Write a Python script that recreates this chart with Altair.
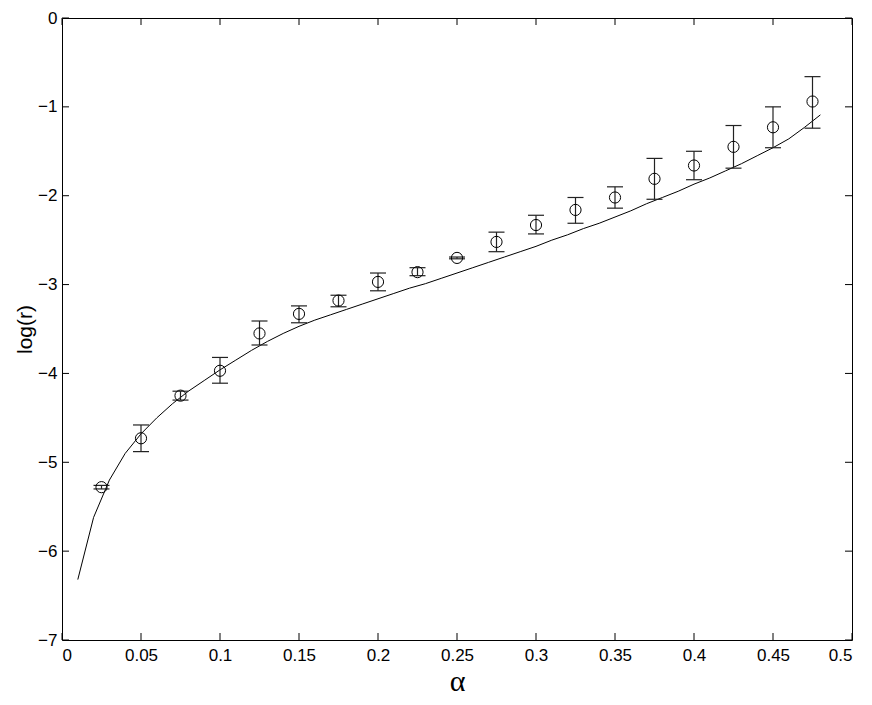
import altair as alt
import pandas as pd

# measured points (alpha, log r) with error bar limits
alpha_pts = [0.025, 0.05, 0.075, 0.1, 0.125, 0.15, 0.175, 0.2, 0.225, 0.25,
             0.275, 0.3, 0.325, 0.35, 0.375, 0.4, 0.425, 0.45, 0.475]
logr_pts = [-5.28, -4.73, -4.25, -3.97, -3.55, -3.33, -3.18, -2.97, -2.86, -2.70,
            -2.52, -2.33, -2.16, -2.02, -1.81, -1.66, -1.45, -1.23, -0.94]
err_hi = [-5.26, -4.58, -4.20, -3.82, -3.41, -3.24, -3.12, -2.87, -2.81, -2.69,
          -2.41, -2.22, -2.02, -1.90, -1.58, -1.50, -1.21, -1.00, -0.66]
err_lo = [-5.30, -4.88, -4.30, -4.11, -3.68, -3.43, -3.25, -3.07, -2.90, -2.71,
          -2.63, -2.43, -2.31, -2.14, -2.04, -1.82, -1.69, -1.46, -1.24]

# theoretical curve
alpha_line = [0.01, 0.02, 0.03, 0.04, 0.05, 0.06, 0.07, 0.08, 0.09, 0.10,
              0.11, 0.12, 0.13, 0.14, 0.15, 0.16, 0.17, 0.18, 0.19, 0.20,
              0.21, 0.22, 0.23, 0.24, 0.25, 0.26, 0.27, 0.28, 0.29, 0.30,
              0.31, 0.32, 0.33, 0.34, 0.35, 0.36, 0.37, 0.38, 0.39, 0.40,
              0.41, 0.42, 0.43, 0.44, 0.45, 0.46, 0.47, 0.48]
logr_line = [-6.32, -5.62, -5.20, -4.90, -4.68, -4.50, -4.34, -4.20, -4.08, -3.96,
             -3.85, -3.74, -3.64, -3.55, -3.47, -3.40, -3.34, -3.28, -3.22, -3.16,
             -3.10, -3.04, -2.99, -2.93, -2.87, -2.81, -2.75, -2.69, -2.63, -2.57,
             -2.50, -2.44, -2.37, -2.31, -2.24, -2.17, -2.09, -2.02, -1.95, -1.87,
             -1.80, -1.72, -1.64, -1.55, -1.46, -1.36, -1.23, -1.09]

x_ticks = [0, 0.05, 0.1, 0.15, 0.2, 0.25, 0.3, 0.35, 0.4, 0.45, 0.5]
y_ticks = [0, -1, -2, -3, -4, -5, -6, -7]

W, H = 790, 622
TL = 7

pts = pd.DataFrame({"a": alpha_pts, "v": logr_pts, "hi": err_hi, "lo": err_lo})
line_df = pd.DataFrame({"a": alpha_line, "v": logr_line})
xt = pd.DataFrame({"a": x_ticks})
yt = pd.DataFrame({"v": y_ticks})

xs = alt.Scale(domain=[0, 0.5], nice=False, zero=False)
ys = alt.Scale(domain=[-7, 0], nice=False, zero=False)

x_axis = alt.Axis(values=x_ticks, format="~g", title="α", titleFont="Liberation Serif",
                  titleFontSize=30, titleFontWeight="normal", titlePadding=3,
                  labelPadding=7)
y_axis = alt.Axis(values=y_ticks, title="log(r)", titleFont="Liberation Sans",
                  titleFontSize=21, titleFontWeight="normal", titlePadding=2,
                  labelPadding=5)

X = alt.X("a:Q", scale=xs, axis=x_axis)
Y = alt.Y("v:Q", scale=ys, axis=y_axis)

curve = alt.Chart(line_df).mark_line(color="black", strokeWidth=1).encode(x=X, y=Y)

ebar = alt.Chart(pts).mark_rule(color="#222", strokeWidth=1.2).encode(
    x=X,
    y=alt.Y("lo:Q", scale=ys, axis=y_axis),
    y2="hi:Q",
)
cap_hi = alt.Chart(pts).mark_rule(color="#222", strokeWidth=1.2, xOffset=-8, x2Offset=8).encode(
    x=X, x2="a:Q", y=alt.Y("hi:Q", scale=ys, axis=y_axis),
)
cap_lo = alt.Chart(pts).mark_rule(color="#222", strokeWidth=1.2, xOffset=-8, x2Offset=8).encode(
    x=X, x2="a:Q", y=alt.Y("lo:Q", scale=ys, axis=y_axis),
)
points = alt.Chart(pts).mark_point(shape="circle", filled=False, color="black",
                                   size=125, strokeWidth=1, opacity=1).encode(x=X, y=Y)

tick_bottom = alt.Chart(xt).mark_rule(color="black").encode(
    x=X, y=alt.value(H), y2=alt.value(H - TL))
tick_top = alt.Chart(xt).mark_rule(color="black").encode(
    x=X, y=alt.value(0), y2=alt.value(TL))
tick_left = alt.Chart(yt).mark_rule(color="black").encode(
    y=Y, x=alt.value(0), x2=alt.value(TL))
tick_right = alt.Chart(yt).mark_rule(color="black").encode(
    y=Y, x=alt.value(W), x2=alt.value(W - TL))

chart = alt.layer(
    curve, ebar, cap_hi, cap_lo, points, tick_bottom, tick_top, tick_left, tick_right
).properties(
    width=W, height=H,
    autosize=alt.AutoSizeParams(type="none"),
    padding={"left": 54, "top": 10, "right": 10, "bottom": 57},
    background="white",
).configure_view(
    stroke="black", strokeWidth=1
).configure_axis(
    grid=False, domain=False, ticks=False,
    labelFont="Liberation Sans", labelFontSize=17, labelColor="black",
    titleColor="black",
)

chart.save("out.html", embed_options={"renderer": "svg", "actions": False})
